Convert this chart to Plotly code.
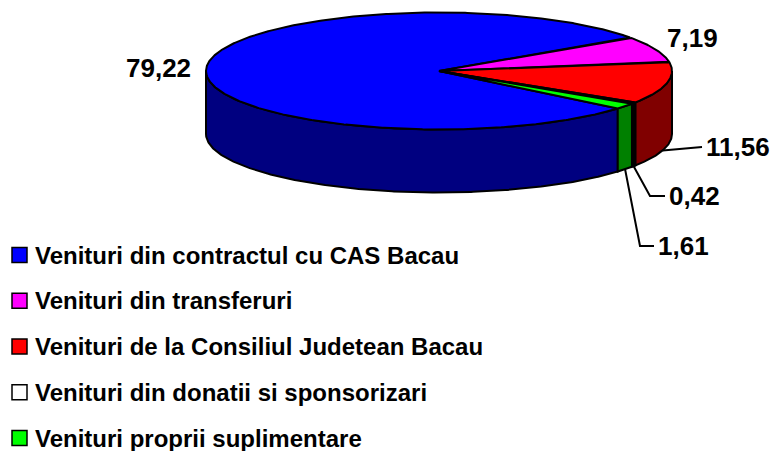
import numpy as np
import plotly.graph_objects as go

# ---- data ----
categories = [
    "Venituri din contractul cu CAS Bacau",
    "Venituri din transferuri",
    "Venituri de la Consiliul Judetean Bacau",
    "Venituri din donatii si sponsorizari",
    "Venituri proprii suplimentare",
]
values = [79.22, 7.19, 11.56, 0.42, 1.61]

# ---- style ----
top_colors = ["#0000FF", "#FF00FF", "#FF0000", "#FFFFFF", "#00FF00"]
side_colors = ["#000080", "#800080", "#800000", "#000000", "#008000"]
W, H = 776, 451
CX, CY, RX, RY, DEPTH = 439.0, 71.0, 233.0, 58.5, 63.0
START = 320.1  # degrees, first slice start, slices go clockwise
FONT = "Liberation Sans, Arial, sans-serif"
LEG_X, LEG_Y0, LEG_DY = 19.5, 255.0, 45.75
LW = 2.0


def pt(t_deg, dy=0.0):
    t = np.radians(t_deg)
    return CX + RX * np.cos(t), CY - RY * np.sin(t) + dy


def arc(a, b, dy=0.0, n=None):
    if n is None:
        n = max(4, int(abs(b - a) * 2))
    ts = np.linspace(a, b, n)
    x, y = pt(ts, dy)
    return list(x), list(y)


total = sum(values)
spans = [v / total * 360.0 for v in values]
bounds = []
t = START
for s in spans:
    bounds.append((t, t - s))
    t -= s

fig = go.Figure()

# side walls (front half only: 180..360 deg)
for (a, b), col in zip(bounds, side_colors):
    lo, hi = min(a, b), max(a, b)
    for k in range(-2, 3):
        f0, f1 = 180 + 360 * k, 360 + 360 * k
        s0, s1 = max(lo, f0), min(hi, f1)
        if s1 - s0 > 1e-6:
            x1, y1 = arc(s0, s1)
            x2, y2 = arc(s1, s0, DEPTH)
            fig.add_trace(go.Scatter(
                x=x1 + x2 + [x1[0]], y=y1 + y2 + [y1[0]],
                mode="lines", fill="toself", fillcolor=col,
                line=dict(color="black", width=LW),
                hoverinfo="skip", showlegend=False))

# top faces
for (a, b), col, name in zip(bounds, top_colors, categories):
    xs, ys = arc(a, b)
    fig.add_trace(go.Scatter(
        x=[CX] + xs + [CX], y=[CY] + ys + [CY],
        mode="lines", fill="toself", fillcolor=col, name=name,
        line=dict(color="black", width=LW),
        hoverinfo="name", showlegend=False))

# legend (drawn manually for exact placement)
leg_y = [LEG_Y0 + i * LEG_DY for i in range(len(categories))]
fig.add_trace(go.Scatter(
    x=[LEG_X] * len(categories), y=leg_y, mode="markers",
    marker=dict(symbol="square", size=15, color=top_colors,
                line=dict(color="black", width=1.5)),
    hoverinfo="skip", showlegend=False))
for name, y in zip(categories, leg_y):
    fig.add_annotation(x=33, y=y, text=f"<b>{name}</b>", showarrow=False,
                       font=dict(family=FONT, size=24, color="black"),
                       xanchor="left", yanchor="middle")


def fmt(v):
    return f"{v:.2f}".replace(".", ",")


# data labels
label_pos = [(158, 68), (692, 38), (738, 147), (694, 196), (683, 246)]
leaders = {2: [(702, 147)], 3: [(650, 196), (665, 196)], 4: [(640, 246), (654, 246)]}
for i, v in enumerate(values):
    lx, ly = label_pos[i]
    fig.add_annotation(x=lx, y=ly, text=f"<b>{fmt(v)}</b>", showarrow=False,
                       font=dict(family=FONT, size=26, color="black"),
                       xanchor="center", yanchor="middle")
    if i in leaders:
        a, b = bounds[i]
        lo, hi = min(a, b), max(a, b)
        vis_lo, vis_hi = max(lo, -180), min(hi, 0)
        mid = (vis_lo + vis_hi) / 2
        sx, sy = pt(mid, DEPTH)
        pts = [(sx, sy)] + leaders[i]
        fig.add_trace(go.Scatter(
            x=[p[0] for p in pts], y=[p[1] for p in pts], mode="lines",
            line=dict(color="black", width=2), hoverinfo="skip", showlegend=False))

fig.update_layout(
    width=W, height=H, autosize=False,
    margin=dict(l=0, r=0, t=0, b=0),
    paper_bgcolor="white", plot_bgcolor="white",
    xaxis=dict(range=[0, W], visible=False, fixedrange=True),
    yaxis=dict(range=[H, 0], visible=False, fixedrange=True),
    showlegend=False,
)

fig.write_html("out.html", config={"displayModeBar": False},
               post_script="document.body.style.margin='0';")
